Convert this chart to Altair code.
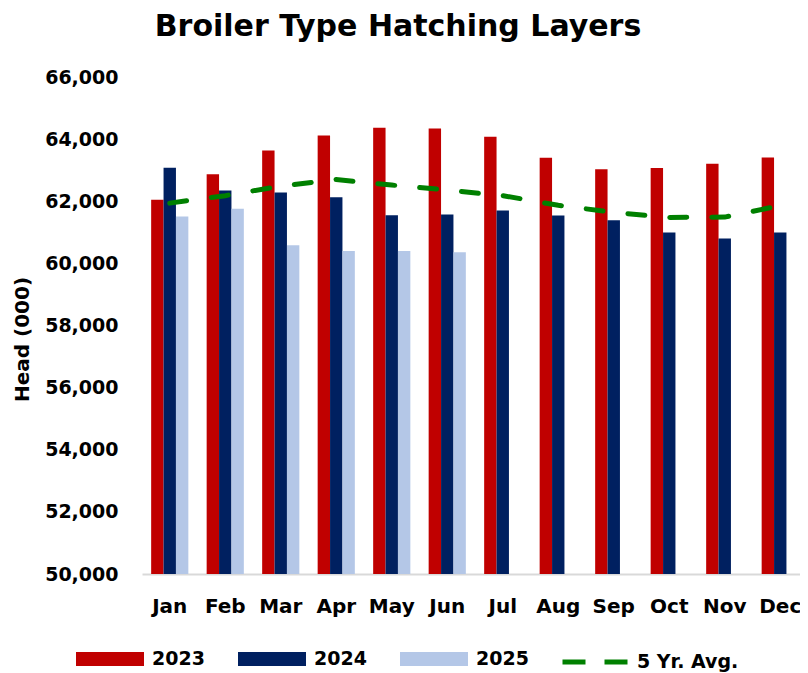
import altair as alt
import pandas as pd

months = ["Jan", "Feb", "Mar", "Apr", "May", "Jun", "Jul", "Aug", "Sep", "Oct", "Nov", "Dec"]
years = ["2023", "2024", "2025"]
y2023 = [62050, 62870, 63630, 64120, 64370, 64340, 64080, 63400, 63030, 63070, 63210, 63410]
y2024 = [63080, 62350, 62280, 62130, 61550, 61570, 61700, 61540, 61390, 60990, 60800, 60990]
y2025 = [61510, 61760, 60580, 60400, 60400, 60360]
avg5 = [61940, 62180, 62490, 62700, 62520, 62360, 62180, 61870, 61640, 61480, 61490, 61860]
bar_colors = ["#C00000", "#002060", "#B4C7E7"]
avg_label = "5 Yr. Avg."
avg_color = "#008000"
y_ticks = [50000, 52000, 54000, 56000, 58000, 60000, 62000, 64000, 66000]

rows = []
for yr, vals in zip(years, [y2023, y2024, y2025]):
    for m, v in zip(months, vals):
        rows.append({"month": m, "year": yr, "value": v})
bars_df = pd.DataFrame(rows)
avg_df = pd.DataFrame({"month": months, "value": avg5, "series": [avg_label] * len(months)})

FONT = "DejaVu Sans"

x_enc = alt.X(
    "month:N",
    sort=months,
    scale=alt.Scale(paddingInner=0.33, paddingOuter=0.165),
    axis=alt.Axis(
        title=None, labelAngle=0, labelFontSize=20, labelFontWeight="bold",
        labelColor="black", labelPadding=22, ticks=False,
        domainColor="#d9d9d9", domainWidth=2,
    ),
)
y_enc = alt.Y(
    "value:Q",
    scale=alt.Scale(domain=[50000, 66000], nice=False, zero=False),
    axis=alt.Axis(
        title="Head (000)", values=y_ticks, format=",.0f", grid=False, domain=False,
        ticks=False, labelPadding=24, labelFontSize=19, labelFontWeight="bold",
        labelColor="black", titleFontSize=20, titleFontWeight="bold",
        titleColor="black", titlePadding=12, titleY=262,
    ),
)

bars = alt.Chart(bars_df).mark_bar(clip=True).encode(
    x=x_enc,
    xOffset=alt.XOffset("year:N", sort=years, scale=alt.Scale(paddingInner=0, paddingOuter=0)),
    y=y_enc,
    color=alt.Color(
        "year:N",
        scale=alt.Scale(domain=years, range=bar_colors),
        legend=alt.Legend(
            title=None, orient="none", legendX=-66, legendY=548, direction="horizontal",
            symbolType="M-1,-0.206L1,-0.206L1,0.206L-1,0.206Z", symbolSize=4624,
            symbolStrokeWidth=0, symbolOpacity=1, labelFontSize=19, labelFontWeight="bold",
            labelColor="black", labelOffset=8, columnPadding=33, padding=0,
        ),
    ),
)

line = alt.Chart(avg_df).mark_line(strokeWidth=5, strokeDash=[17, 25], strokeCap="round").encode(
    x=alt.X("month:N", sort=months),
    y=alt.Y("value:Q"),
    stroke=alt.Stroke(
        "series:N",
        scale=alt.Scale(domain=[avg_label], range=[avg_color]),
        legend=alt.Legend(
            title=None, orient="none", legendX=418, legendY=550,
            symbolType="stroke", symbolSize=4225, symbolStrokeWidth=5,
            symbolDash=[23, 19], labelFontSize=19, labelFontWeight="bold",
            labelColor="black", labelOffset=7, padding=0,
        ),
    ),
)

chart = alt.layer(bars, line).resolve_scale(color="independent").properties(
    width=666,
    height=497,
    autosize=alt.AutoSizeParams(type="none"),
    padding={"left": 134, "top": 69, "right": -8, "bottom": 100},
    title=alt.TitleParams(
        "Broiler Type Hatching Layers", fontSize=30, font=FONT, fontWeight="bold",
        color="black", anchor="middle", dx=-77, offset=26,
    ),
).configure(font=FONT).configure_view(stroke=None)

chart.save("out.html", embed_options={"renderer": "svg", "actions": False})
